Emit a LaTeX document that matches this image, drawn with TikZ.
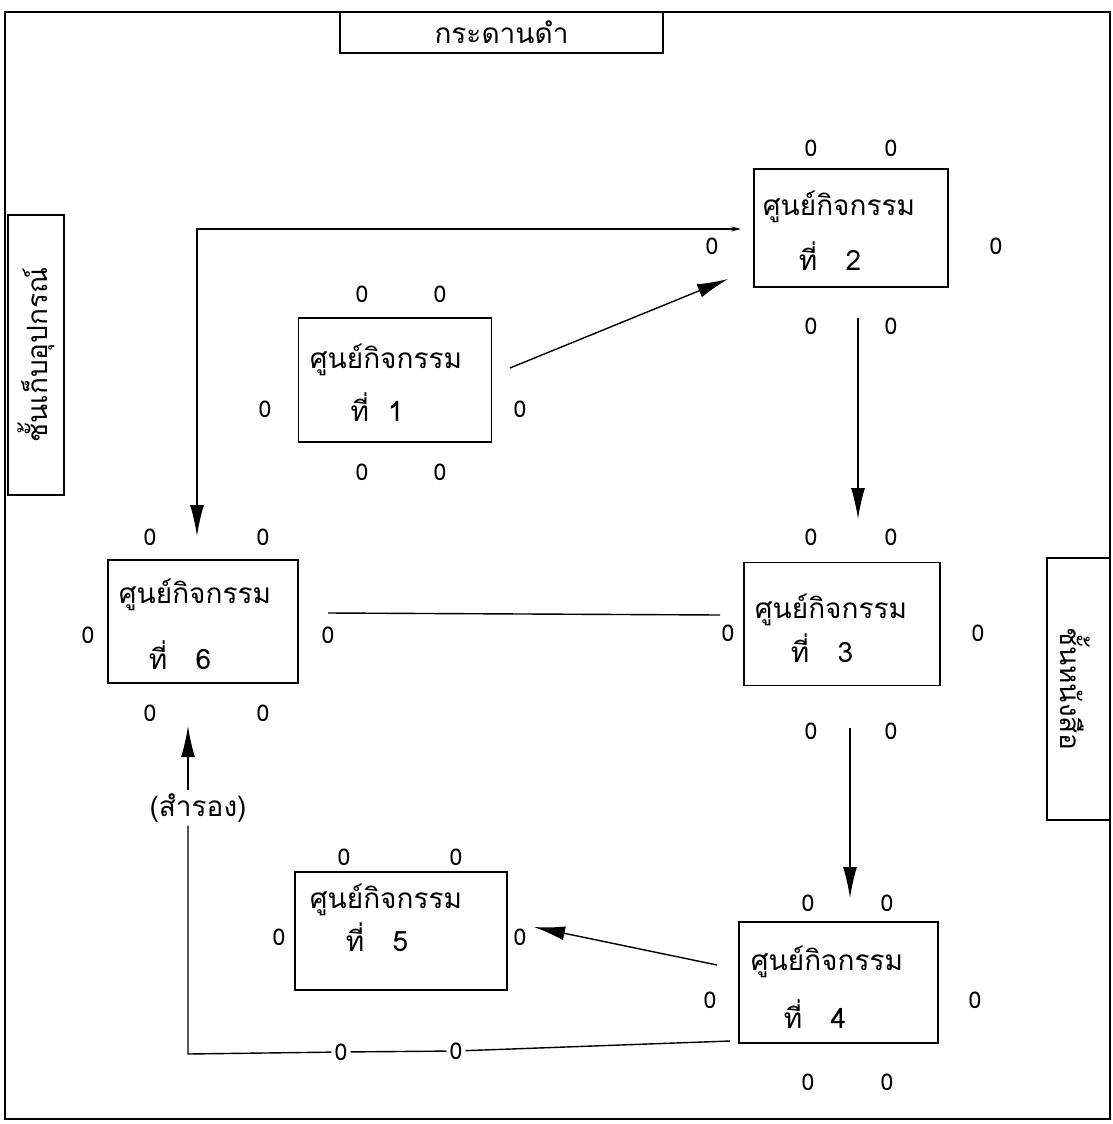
\documentclass[tikz,border=0pt]{standalone}
\usepackage{fontspec}
\newfontfamily\thaifont[Script=Thai]{Loma}
\usetikzlibrary{arrows.meta}
\begin{document}
\begin{tikzpicture}[x=1pt,y=-1pt,
  every node/.style={font=\thaifont\fontsize{28}{32}\selectfont, inner sep=0pt},
  frame/.style={draw, line width=1.6pt},
  stationbox/.style={draw, line width=1.5pt, inner sep=0pt},
  zero/.style={font=\thaifont\fontsize{23}{25}\selectfont, inner sep=3pt},
  conn/.style={line width=1.4pt},
  bigtip/.style={-{Latex[length=31pt,width=14pt]}},
  note/.style={fill=white, inner sep=3pt}
]
\useasboundingbox (0,0) rectangle (1112,1124);
% outer frame
\draw[frame] (5,12) rectangle (1110,1119);
% blackboard and shelves
\node[stationbox, minimum width=323pt, minimum height=41pt] (board) at (501.5,32.5) {กระดานดำ};
\node[stationbox, minimum width=56pt, minimum height=280pt] (lshelf) at (36,355) {};
\node[rotate=90] (lshelftxt) at (36,355) {ชั้นเก็บอุปกรณ์};
\node[stationbox, minimum width=63pt, minimum height=262pt] (rshelf) at (1078.5,689) {};
\node[rotate=-90] (rshelftxt) at (1075,689) {ชั้นหนังสือ};

% stations (boxes)
\node[stationbox, minimum width=193pt, minimum height=124pt] (s1) at (395,380) {};
\node[stationbox, minimum width=194pt, minimum height=118pt] (s2) at (851,228) {};
\node[stationbox, minimum width=196pt, minimum height=123pt] (s3) at (842,624) {};
\node[stationbox, minimum width=199pt, minimum height=121pt] (s4) at (838.5,982.5) {};
\node[stationbox, minimum width=212pt, minimum height=118pt] (s5) at (401,931) {};
\node[stationbox, minimum width=190pt, minimum height=123pt] (s6) at (203,621.5) {};

% station texts
\node (s1a) at (386,360) {ศูนย์กิจกรรม};
\node (s1b) at (377,407) {ที่~~1};
\node (s2a) at (839,207) {ศูนย์กิจกรรม};
\node (s2b) at (830,256) {ที่~~~2};
\node (s3a) at (831,610) {ศูนย์กิจกรรม};
\node (s3b) at (822,648) {ที่~~~3};
\node (s4a) at (827,962) {ศูนย์กิจกรรม};
\node (s4b) at (815,1014) {ที่~~~4};
\node (s5a) at (386,900) {ศูนย์กิจกรรม};
\node (s5b) at (377,937) {ที่~~~5};
\node (s6a) at (195,595) {ศูนย์กิจกรรม};
\node (s6b) at (180,655) {ที่~~~6};

% zeros
\node[zero] (z1t1) at (362,294) {0};
\node[zero] (z1t2) at (440,294) {0};
\node[zero] (z1l) at (265,409) {0};
\node[zero] (z1r) at (520,409) {0};
\node[zero] (z1b1) at (362,472) {0};
\node[zero] (z1b2) at (440,472) {0};

\node[zero] (z2t1) at (811,148) {0};
\node[zero] (z2t2) at (891,148) {0};
\node[zero] (z2l) at (712,246) {0};
\node[zero] (z2r) at (996,246) {0};
\node[zero] (z2b1) at (811,326) {0};
\node[zero] (z2b2) at (891,326) {0};

\node[zero] (z3t1) at (811,537) {0};
\node[zero] (z3t2) at (891,537) {0};
\node[zero] (z3l) at (728,633) {0};
\node[zero] (z3r) at (978,633) {0};
\node[zero] (z3b1) at (811,731) {0};
\node[zero] (z3b2) at (891,731) {0};

\node[zero] (z4t1) at (808,903) {0};
\node[zero] (z4t2) at (887,903) {0};
\node[zero] (z4l) at (710,1000) {0};
\node[zero] (z4r) at (975,1000) {0};
\node[zero] (z4b1) at (808,1082) {0};
\node[zero] (z4b2) at (887,1082) {0};

\node[zero] (z5t1) at (344,857) {0};
\node[zero] (z5t2) at (456,857) {0};
\node[zero] (z5l) at (279,937) {0};
\node[zero] (z5r) at (520,937) {0};

\node[zero] (z6t1) at (150,537) {0};
\node[zero] (z6t2) at (263,537) {0};
\node[zero] (z6l) at (88,635) {0};
\node[zero] (z6r) at (328,635) {0};
\node[zero] (z6b1) at (150,713) {0};
\node[zero] (z6b2) at (263,713) {0};

% bottom return line labels
\node[zero] (zb1) at (341,1052) {0};
\node[zero] (zb2) at (456,1051) {0};
\node[note] (spare) at (198,808) {(สำรอง)};

% connector end points
\coordinate (a12s) at (510,368);
\coordinate (a12e) at (728,279);
\coordinate (a23s) at (858,318);
\coordinate (a23e) at (858,519);
\coordinate (a34s) at (850,728);
\coordinate (a34e) at (850,898);
\coordinate (a45s) at (717,965);
\coordinate (a45e) at (534,927);
\coordinate (l63s) at (328,613);
\coordinate (l63e) at (720,615);
\coordinate (a6t) at (197,536);
\coordinate (a2l) at (741,229);
\coordinate (c4) at (730,1041);
\coordinate (cbl) at (188,1054);
\coordinate (a6b) at (188,726);

% connectors
\draw[conn, bigtip] (a12s) -- (a12e);
\draw[conn, bigtip] (a23s) -- (a23e);
\draw[conn, bigtip] (a34s) -- (a34e);
\draw[conn, bigtip] (a45s) -- (a45e);
\draw[conn] (l63s) -- (l63e);
\draw[conn, {Latex[length=31pt,width=14pt]}-{Stealth[length=10pt,width=5pt]}] (a6t) |- (a2l);
\draw[conn] (c4) -- (zb2) -- (zb1) -- (cbl) -- (cbl |- spare.south);
\draw[conn, bigtip] (cbl |- spare.north) -- (a6b);
\end{tikzpicture}
\end{document}
